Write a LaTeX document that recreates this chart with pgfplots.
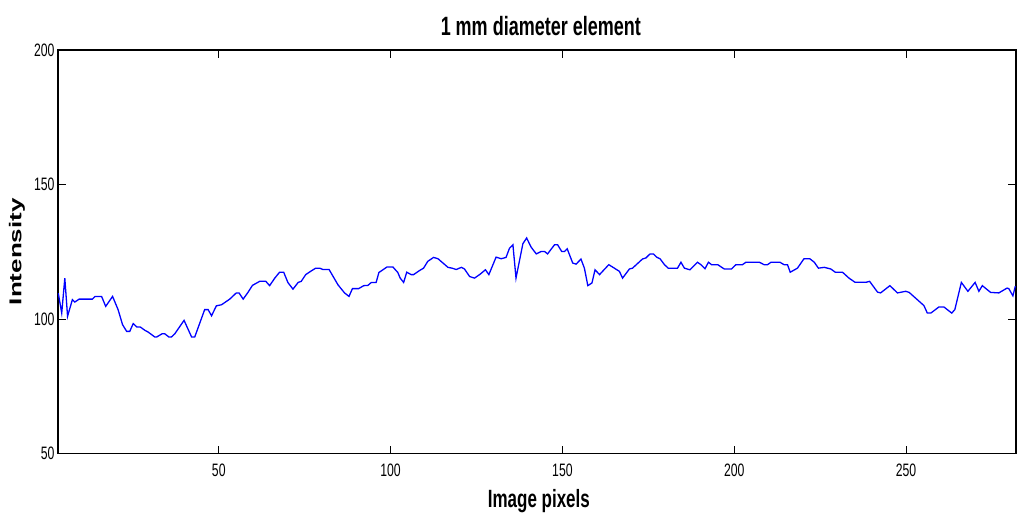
\documentclass[border=0pt]{standalone}
\usepackage{fontspec}
\setmainfont{Liberation Sans}[FakeStretch=0.68]
\newfontfamily\plainfont{Liberation Sans}
\usepackage{graphicx}
\usepackage{pgfplots}
\pgfplotsset{compat=1.18}
\begin{document}
\begin{tikzpicture}
\begin{axis}[name=ax,
  scale only axis, width=959pt, height=404pt,
  xmin=3.2, xmax=282, ymin=50, ymax=200,
  xtick={50,100,150,200,250}, ytick={50,100,150,200},
  tick align=inside, major tick length=8pt,
  every tick/.style={black, line width=0.8pt},
  axis line style={line width=1.5pt},
  /pgf/number format/assume math mode=true,
  ticklabel style={font=\fontsize{18}{20}\selectfont},
  xticklabel style={yshift=-7pt},
  title={1 mm diameter element},
  title style={font=\bfseries\fontsize{26.5}{28}\selectfont, at={(axis description cs:0.504,1.021)}, anchor=base},
  xlabel={Image pixels},
  xlabel style={font=\bfseries\fontsize{25}{28}\selectfont, at={(axis description cs:0.502,-0.1337)}, anchor=base},
  ylabel={\scalebox{1}[0.66]{\plainfont\bfseries\fontsize{26}{28}\selectfont Intensity}},
  ylabel style={at={(axis description cs:-0.0428,0.5)}, anchor=center},
]
\addplot[blue, line width=1.3pt] coordinates {
(3.3,109.6) (4.3,102.2) (5.2,115.2) (6.0,101.0) (7.4,107.2) (8.1,106.3) (9.4,107.4)
(13.2,107.4) (14.0,108.4) (15.9,108.4) (17.1,104.7) (19.1,108.4) (20.7,103.5)
(22.0,97.9) (23.2,95.4) (24.1,95.4) (25.1,98.3) (26.2,97.0) (27.2,97.0) (28.5,95.8)
(29.4,95.2) (31.4,93.3) (31.9,93.3) (33.5,94.5) (34.3,94.5) (35.5,93.3) (36.2,93.3)
(37.2,94.5) (39.9,99.5) (42.1,93.3) (43.0,93.3) (45.9,103.5) (46.9,103.5)
(47.9,101.2) (49.3,104.9) (50.8,105.3) (53.2,107.4) (55.1,109.7) (55.9,109.7)
(57.1,107.4) (58.5,109.9) (59.8,112.5) (61.9,114.0) (63.7,114.0) (64.8,112.4)
(66.3,115.2) (67.7,117.4) (68.9,117.4) (70.1,113.6) (71.6,111.1) (73.1,113.6)
(74.0,114.0) (75.3,116.5) (76.7,117.7) (78.2,118.9) (79.4,118.9) (80.3,118.4)
(82.1,118.4) (84.7,112.7) (86.6,109.7) (87.9,108.4) (88.9,111.3) (90.7,111.3)
(92.2,112.4) (93.4,112.5) (94.4,113.6) (95.8,113.6) (96.6,117.3) (98.0,118.5)
(98.9,119.3) (100.7,119.3) (102.1,117.3) (102.8,115.2) (103.8,113.6) (104.7,117.4)
(106.0,116.5) (106.7,116.5) (108.4,118.0) (109.6,118.9) (110.8,121.4) (112.5,122.9)
(113.8,122.4) (116.7,119.2) (117.9,118.9) (119.1,118.4) (120.6,119.2) (121.5,118.6)
(123.0,115.8) (124.4,115.2) (125.9,116.5) (127.6,118.3) (128.6,116.5) (130.7,123.0)
(132.2,122.4) (133.6,122.9) (134.6,126.3) (135.6,127.6) (136.5,115.2) (138.5,128.0)
(139.6,130.1) (140.9,126.7) (142.4,124.2) (143.8,125.1) (144.8,125.1) (145.7,124.2)
(147.7,127.6) (148.6,127.6) (149.8,125.1) (150.6,125.1) (151.4,126.1) (153.0,120.8)
(154.0,120.4) (155.4,122.3) (156.4,118.9) (157.4,112.4) (158.6,113.4) (159.5,118.3)
(160.8,116.5) (163.5,120.2) (166.6,117.7) (167.5,115.2) (169.5,118.6) (170.4,118.9)
(173.3,122.3) (174.3,122.7) (175.5,124.2) (176.5,124.2) (177.4,123.0) (178.4,122.4)
(179.7,120.2) (180.8,118.9) (183.5,118.9) (184.5,121.1) (185.5,118.9) (187.1,118.3)
(189.3,121.1) (190.3,120.2) (191.5,118.7) (192.5,121.1) (193.4,120.2) (195.2,120.2)
(197.1,118.6) (199.2,118.6) (200.5,120.2) (202.4,120.2) (203.4,121.1) (207.3,121.1)
(208.7,120.2) (209.7,120.2) (210.7,121.1) (213.3,121.1) (214.5,120.2) (215.5,120.2)
(216.3,117.4) (218.4,118.9) (220.3,122.4) (222.0,122.4) (223.3,121.1) (224.5,118.9)
(226.2,119.2) (228.1,118.6) (229.4,117.4) (231.5,117.4) (233.4,115.2) (235.1,113.7)
(238.5,113.7) (239.4,114.0) (241.7,110.0) (242.6,109.7) (245.3,112.4) (247.5,109.7)
(249.9,110.3) (250.9,109.9) (255.2,105.0) (256.2,102.2) (257.2,102.2) (259.6,104.5)
(261.0,104.5) (263.3,102.2) (264.2,103.5) (266.1,113.6) (268.0,110.3) (270.1,113.6)
(271.2,110.3) (272.2,112.4) (274.6,109.9) (277.0,109.7) (279.4,111.5) (279.9,111.3)
(281.1,108.6) (281.8,112.2)
};
\end{axis}
\pgfresetboundingbox
\path ([shift={(-58pt,-60pt)}]ax.south west) rectangle ([shift={(1pt,50pt)}]ax.north east);
\end{tikzpicture}
\end{document}
